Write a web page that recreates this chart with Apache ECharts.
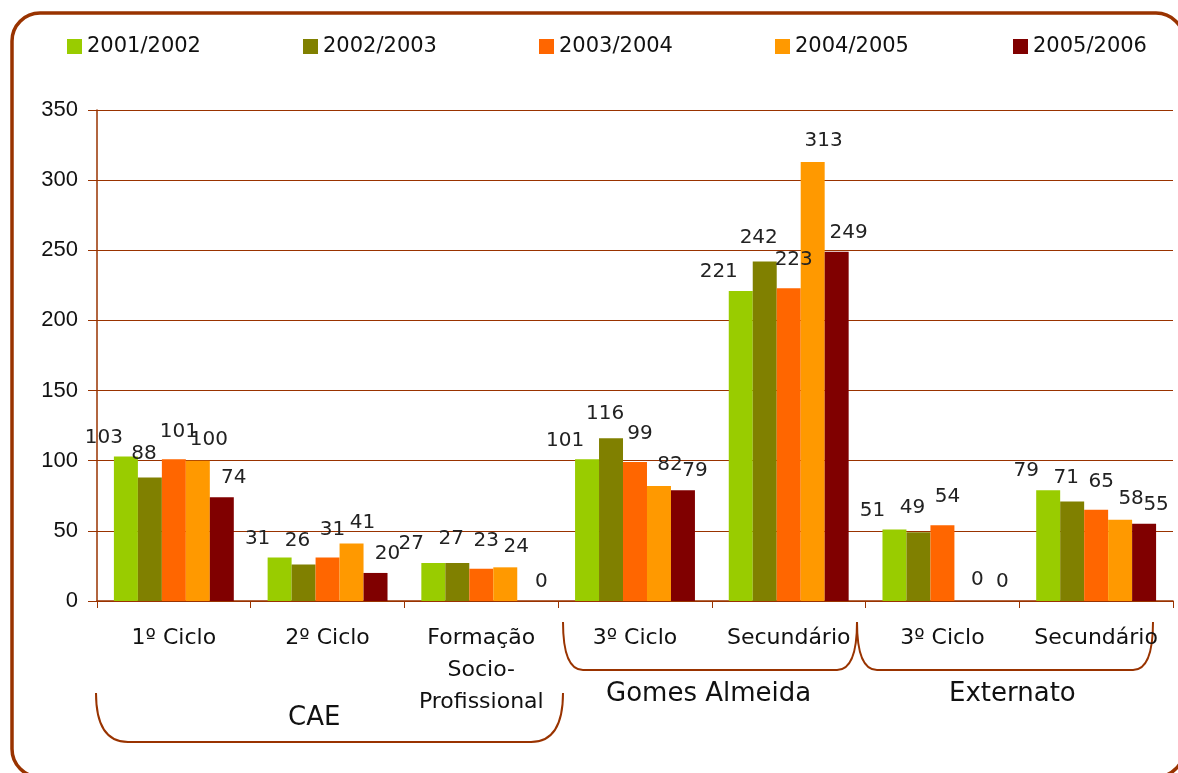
<!DOCTYPE html>
<html>
<head>
<meta charset="utf-8">
<script src="https://cdn.jsdelivr.net/npm/echarts@6/dist/echarts.min.js"></script>
<style>
  html, body { margin: 0; padding: 0; background: #fff; }
  #chart { width: 1178px; height: 773px; }
</style>
</head>
<body>
<div id="chart"></div>
<script>
// categorias (eixo x)
var categories = ['1º Ciclo', '2º Ciclo', 'Formação\nSocio-\nProfissional', '3º Ciclo', 'Secundário', '3º Ciclo', 'Secundário'];
var yearNames = ['2001/2002', '2002/2003', '2003/2004', '2004/2005', '2005/2006'];

// valores por ano lectivo
var y2001 = [103, 31, 27, 101, 221, 51, 79];
var y2002 = [88, 26, 27, 116, 242, 49, 71];
var y2003 = [101, 31, 23, 99, 223, 54, 65];
var y2004 = [100, 41, 24, 82, 313, 0, 58];
var y2005 = [74, 20, 0, 79, 249, 0, 55];

var yTicks = [0, 50, 100, 150, 200, 250, 300, 350];
var groupNames = ['CAE', 'Gomes Almeida', 'Externato'];

var colors = ['#99CC00', '#808000', '#FF6600', '#FF9900', '#800000'];
var brown = '#993300';
var txtFont = 'DejaVu Sans';

var allValues = [y2001, y2002, y2003, y2004, y2005];

// deslocamento das etiquetas por série (no original foram arrastadas à mão)
var labelShiftX = [-22, -6, 5, 11, 12];
var labelDist = [9, 14, 18, 11, 9];

var seriesdata = [];
for (var i = 0; i < yearNames.length; i++) {
  seriesdata.push({
    name: yearNames[i],
    type: 'bar',
    data: allValues[i],
    barGap: '0%',
    barCategoryGap: '22%',
    itemStyle: { color: colors[i] },
    label: {
      show: true,
      position: 'top',
      distance: labelDist[i],
      offset: [labelShiftX[i], 0],
      color: '#222',
      fontFamily: txtFont,
      fontSize: 20
    }
  });
}

// uma legenda por ano, para as posições ficarem como no original
var legendLeft = [62, 298, 534, 770, 1008];
var legends = [];
for (var k = 0; k < yearNames.length; k++) {
  legends.push({
    data: [yearNames[k]],
    left: legendLeft[k],
    top: 31,
    itemWidth: 15,
    itemHeight: 15,
    itemGap: 0,
    icon: 'rect',
    textStyle: { fontFamily: txtFont, fontSize: 21, color: '#111' },
    selectedMode: false
  });
}

// chaveta: curva esquerda, linha de baixo, curva direita
function bracket(x1, x2, yTop, yBot, rx) {
  var st = { stroke: brown, lineWidth: 2, fill: 'none' };
  return [
    { type: 'bezierCurve', silent: true, style: st,
      shape: { x1: x1, y1: yTop, cpx1: x1, cpy1: yBot - 14, cpx2: x1 + rx * 0.4, cpy2: yBot, x2: x1 + rx, y2: yBot } },
    { type: 'line', silent: true, style: st,
      shape: { x1: x1 + rx, y1: yBot, x2: x2 - rx, y2: yBot } },
    { type: 'bezierCurve', silent: true, style: st,
      shape: { x1: x2 - rx, y1: yBot, cpx1: x2 - rx * 0.4, cpy1: yBot, cpx2: x2, cpy2: yBot - 14, x2: x2, y2: yTop } }
  ];
}

var groupFont = '26px "DejaVu Sans"';
var graphics = [
  {
    type: 'rect', silent: true,
    shape: { x: 12, y: 13, width: 1172, height: 764, r: 28 },
    style: { fill: 'none', stroke: brown, lineWidth: 3.5 }
  },
  { type: 'text', left: 288, top: 705, silent: true,
    style: { text: groupNames[0], font: groupFont, fill: '#111' } },
  { type: 'text', left: 606, top: 681, silent: true,
    style: { text: groupNames[1], font: groupFont, fill: '#111' } },
  { type: 'text', left: 949, top: 681, silent: true,
    style: { text: groupNames[2], font: groupFont, fill: '#111' } }
];
graphics = graphics.concat(bracket(96, 563, 693, 742, 32));
graphics = graphics.concat(bracket(563, 857, 622, 670, 20));
graphics = graphics.concat(bracket(857, 1153, 622, 670, 20));

var chart = echarts.init(document.getElementById('chart'));
var option = {
  backgroundColor: '#fff',
  animation: false,
  legend: legends,
  grid: { left: 97, right: 5, top: 110, bottom: 172, containLabel: false },
  xAxis: {
    type: 'category',
    data: categories,
    axisLine: { lineStyle: { color: brown, width: 1.5 } },
    axisTick: { show: true, length: 7, lineStyle: { color: brown } },
    axisLabel: {
      interval: 0,
      margin: 21,
      color: '#111',
      fontFamily: txtFont,
      fontSize: 22,
      lineHeight: 32
    }
  },
  yAxis: {
    type: 'value',
    min: 0,
    max: 350,
    interval: 50,
    axisLine: { show: true, lineStyle: { color: brown, width: 1.5 } },
    axisTick: { show: true, length: 9, lineStyle: { color: brown } },
    axisLabel: {
      margin: 19,
      color: '#111',
      fontFamily: 'Liberation Sans',
      fontSize: 22,
      formatter: function (v) { return yTicks.indexOf(v) >= 0 ? String(v) : ''; }
    },
    splitLine: { show: true, lineStyle: { color: brown, width: 1 } }
  },
  series: seriesdata,
  graphic: graphics
};
chart.setOption(option, true);
</script>
</body>
</html>
